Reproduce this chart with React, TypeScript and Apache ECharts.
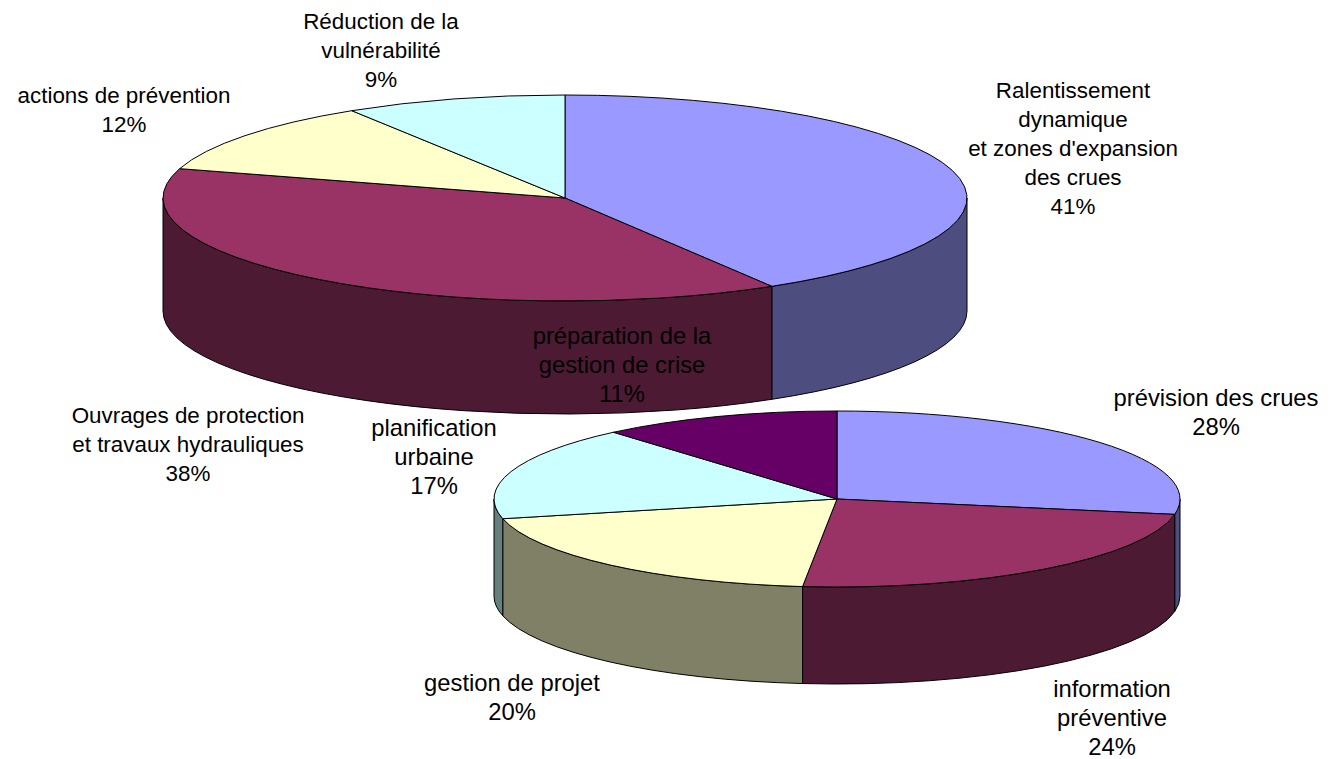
import React, { useEffect, useRef } from "react";
import * as echarts from "echarts";

const topCategories = [
  "Ralentissement\ndynamique\net zones d'expansion\ndes crues",
  "Ouvrages de protection\net travaux hydrauliques",
  "actions de prévention",
  "Réduction de la\nvulnérabilité",
];
const topValues = [41.4, 38.2, 11.5, 8.9];
const topPercentLabels = ["41%", "38%", "12%", "9%"];
const topColors = ["#9999FF", "#993366", "#FFFFCC", "#CCFFFF"];
const topSideColors = ["#4D4D80", "#4D1A33", "#808066", "#668080"];
const topLabelPos = [[1073, 148], [188, 444], [124, 110], [381, 50]];

const lowCategories = [
  "prévision des crues",
  "information\npréventive",
  "gestion de projet",
  "planification\nurbaine",
  "préparation de la\ngestion de crise",
];
const lowValues = [27.8, 23.8, 19.8, 17.3, 11.3];
const lowPercentLabels = ["28%", "24%", "20%", "17%", "11%"];
const lowColors = ["#9999FF", "#993366", "#FFFFCC", "#CCFFFF", "#660066"];
const lowSideColors = ["#4D4D80", "#4D1A33", "#808066", "#668080", "#330033"];
const lowLabelPos = [[1216, 412], [1112, 717], [512, 697], [434, 456], [622, 364]];

type Geo = { cx: number; cy: number; rx: number; ry: number; depth: number };
const topGeo: Geo = { cx: 565, cy: 198, rx: 402, ry: 103, depth: 113 };
const lowGeo: Geo = { cx: 837, cy: 499, rx: 343, ry: 88, depth: 97 };

function pieSeries(values: number[], colors: string[], sides: string[], g: Geo, z: number) {
  const total = values.reduce((a, b) => a + b, 0);
  const pt = (deg: number, dy = 0) => {
    const r = (deg * Math.PI) / 180;
    return [g.cx + g.rx * Math.sin(r), g.cy - g.ry * Math.cos(r) + dy];
  };
  const line = { stroke: "#000", lineWidth: 1 };
  return {
    type: "custom",
    coordinateSystem: "none",
    z,
    silent: true,
    data: values,
    renderItem: (params: any, api: any) => {
      const i = params.dataIndex;
      const v = api.value(0);
      let sum = 0;
      for (let k = 0; k < i; k++) sum += values[k];
      const a = (sum / total) * 360;
      const b = ((sum + v) / total) * 360;
      const children: any[] = [];
      const fa = Math.max(a, 90);
      const fb = Math.min(b, 270);
      if (fb > fa) {
        const p1 = pt(fa), p2 = pt(fb), p3 = pt(fb, g.depth), p4 = pt(fa, g.depth);
        const large = fb - fa > 180 ? 1 : 0;
        children.push({
          type: "path",
          shape: {
            pathData: `M${p1[0]} ${p1[1]}A${g.rx} ${g.ry} 0 ${large} 1 ${p2[0]} ${p2[1]}L${p3[0]} ${p3[1]}A${g.rx} ${g.ry} 0 ${large} 0 ${p4[0]} ${p4[1]}Z`,
          },
          style: { fill: sides[i], ...line },
        });
      }
      const t1 = pt(a), t2 = pt(b);
      const largeTop = b - a > 180 ? 1 : 0;
      children.push({
        type: "path",
        z2: 10,
        shape: {
          pathData: `M${g.cx} ${g.cy}L${t1[0]} ${t1[1]}A${g.rx} ${g.ry} 0 ${largeTop} 1 ${t2[0]} ${t2[1]}Z`,
        },
        style: { fill: colors[i], ...line },
      });
      return { type: "group", children };
    },
  };
}

function labels(cats: string[], pcts: string[], pos: number[][], fontSize: number) {
  return cats.map((c, i) => ({
    type: "text",
    z: 100,
    x: pos[i][0],
    y: pos[i][1],
    style: {
      text: `${c}\n${pcts[i]}`,
      x: 0,
      y: 0,
      align: "center",
      verticalAlign: "middle",
      fontFamily: "Liberation Sans",
      fontSize,
      lineHeight: 29,
      fill: "#000",
    },
  }));
}

export default function App() {
  const ref = useRef<HTMLDivElement>(null);
  useEffect(() => {
    document.body.style.margin = "0";
    document.body.style.background = "#fff";
    const chart = echarts.init(ref.current!, undefined, { renderer: "svg" });
    chart.setOption({
      animation: false,
      backgroundColor: "#fff",
      series: [
        pieSeries(topValues, topColors, topSideColors, topGeo, 1),
        pieSeries(lowValues, lowColors, lowSideColors, lowGeo, 2),
      ],
      graphic: [
        ...labels(topCategories, topPercentLabels, topLabelPos, 22.4),
        ...labels(lowCategories, lowPercentLabels, lowLabelPos, 23.8),
      ],
    });
    return () => chart.dispose();
  }, []);
  return <div ref={ref} style={{ position: "absolute", left: 0, top: 0, width: 1334, height: 759 }} />;
}
